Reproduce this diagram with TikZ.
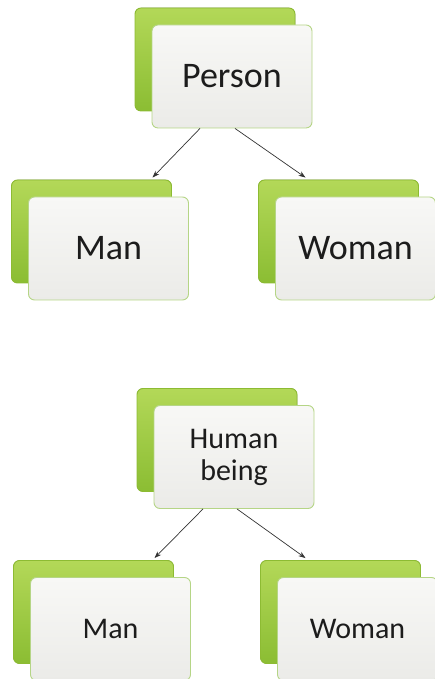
\documentclass[tikz,border=0pt]{standalone}
\usepackage{fontspec}
\setmainfont{Carlito}
\usetikzlibrary{arrows.meta,shadows}

\definecolor{greentop}{HTML}{B3D858}
\definecolor{greenbot}{HTML}{8BBD33}
\definecolor{greenrim}{HTML}{8DBB33}
\definecolor{cardtop}{HTML}{F8F8F6}
\definecolor{cardbot}{HTML}{EBEBE8}
\definecolor{cardrim}{HTML}{B5D586}
\definecolor{cardtext}{HTML}{1C1C1C}
\definecolor{linkgray}{HTML}{333333}

\tikzset{
	card/.style={draw=cardrim, line width=0.9pt, rounded corners=6pt,
		top color=cardtop, bottom color=cardbot, text=cardtext,
		minimum width=160pt, minimum height=103pt, align=center,
		copy shadow={shadow xshift=-17pt, shadow yshift=17pt, draw=greenrim,
			top color=greentop, bottom color=greenbot}},
	link/.style={-{Stealth[length=7pt,width=5pt]}, draw=linkgray, line width=0.7pt}
}

\begin{document}
\begin{tikzpicture}[x=1pt, y=1pt, level distance=172pt, sibling distance=247pt,
	edge from parent/.style={draw=none}]
	\useasboundingbox (0,0) rectangle (435,679);
	
	% upper tree
	\begin{scope}[font=\fontsize{36pt}{40pt}\selectfont]
	\node [card] (person) at (232,602.5) {Person}
	child {node [card] (man) {Man}}
	child {node [card] (woman) {Woman}};
	\end{scope}
	
	% lower tree
	\begin{scope}[font=\fontsize{30pt}{32pt}\selectfont]
	\node [card] (human) at (234,222) {Human\\being}
	child {node [card] (man2) {Man}}
	child {node [card] (woman2) {Woman}};
	\end{scope}
	
	\draw [link] ([xshift=-32pt]person.south) -- ([xshift=44pt, yshift=19pt]man.north);
	\draw [link] ([xshift=3pt]person.south) -- ([xshift=-50pt, yshift=19pt]woman.north);
	\draw [link] ([xshift=-31pt]human.south) -- ([xshift=44pt, yshift=19pt]man2.north);
	\draw [link] ([xshift=3pt]human.south) -- ([xshift=-52pt, yshift=19pt]woman2.north);
\end{tikzpicture}
\end{document}
